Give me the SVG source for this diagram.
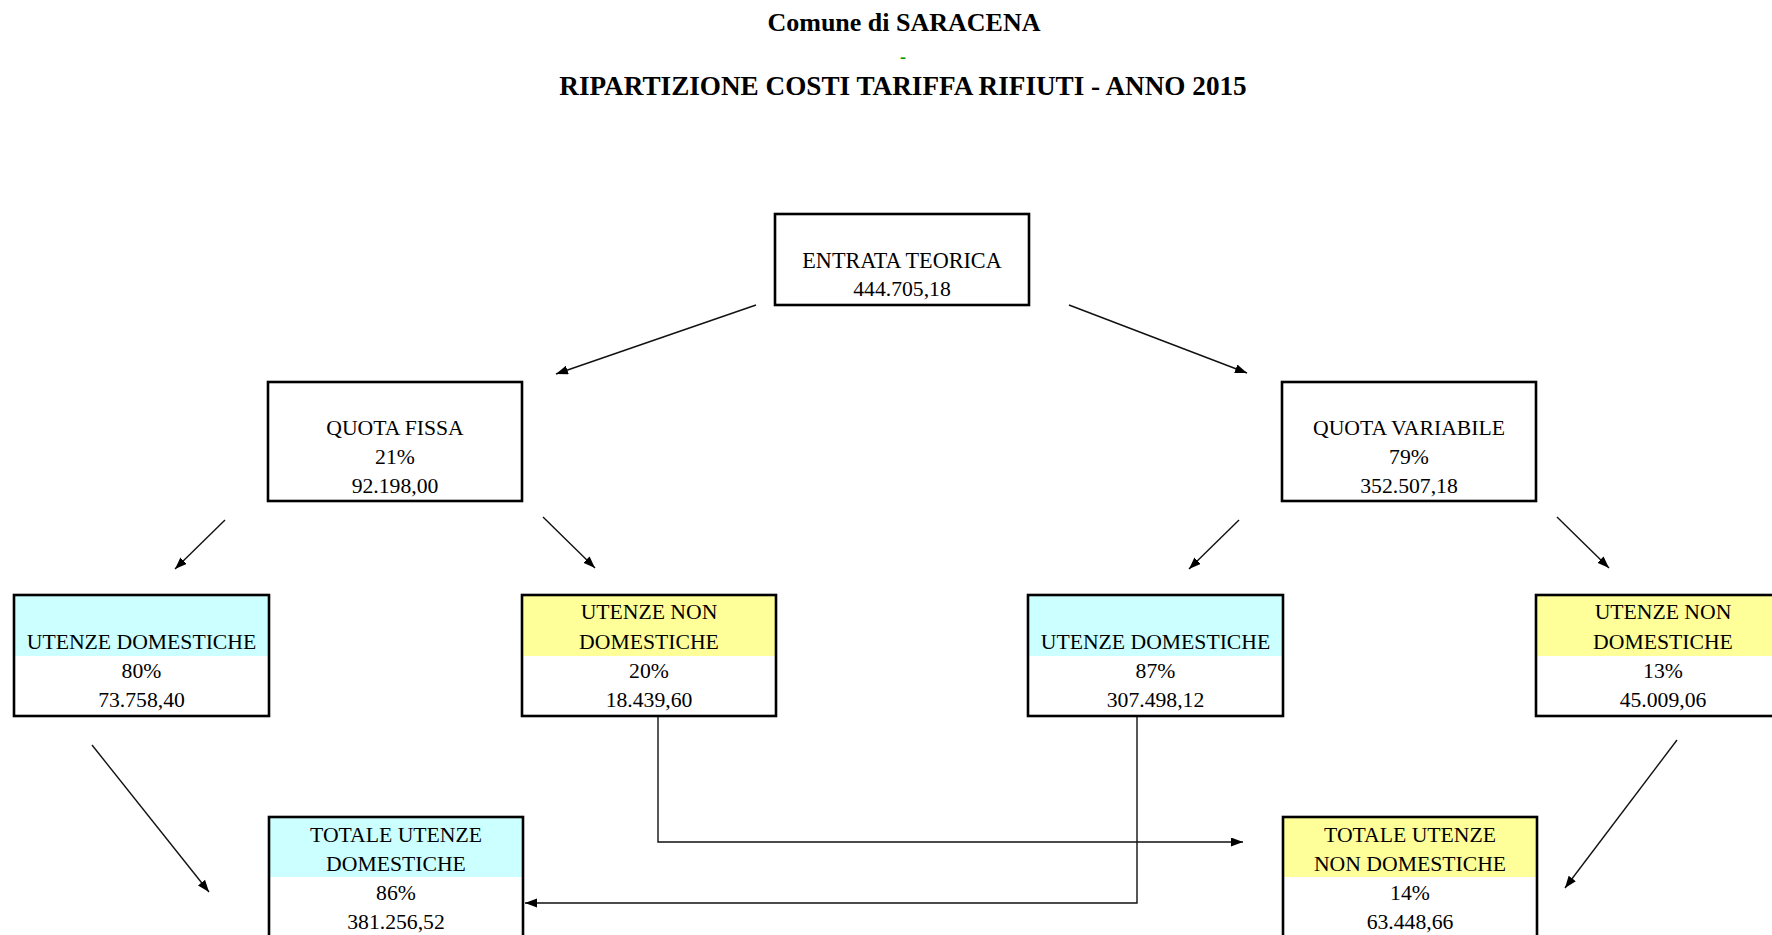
<svg xmlns="http://www.w3.org/2000/svg" width="1772" height="935" viewBox="0 0 1772 935">
<defs>
<style>
.t{font-family:"Liberation Serif","Times New Roman",serif;font-size:21.7px;fill:#000;text-anchor:middle}
.h{font-family:"Liberation Serif","Times New Roman",serif;font-size:26px;font-weight:bold;fill:#000;text-anchor:middle}
.box{fill:none;stroke:#000;stroke-width:2.6}
.bg{fill:#fff}
.cy{fill:#ccffff}
.ye{fill:#ffff99}
.c{fill:none;stroke:#111;stroke-width:1.4}
</style>
<marker id="ah" markerUnits="userSpaceOnUse" markerWidth="13" markerHeight="10" refX="12" refY="4.5" orient="auto">
<path d="M0,0 L12,4.5 L0,9 z" fill="#000"/>
</marker>
</defs>
<rect width="1772" height="935" fill="#fff"/>
<g id="title">
<text class="h" x="904" y="31">Comune di SARACENA</text>
<text x="903" y="63" style="font-family:'Liberation Serif',serif;font-size:18px;font-weight:bold;fill:#00a000;text-anchor:middle">-</text>
<text class="h" x="903" y="95" style="font-size:27.2px">RIPARTIZIONE COSTI TARIFFA RIFIUTI - ANNO 2015</text>
</g>
<g id="connectors">
<line class="c" x1="756" y1="305" x2="556" y2="374" marker-end="url(#ah)"/>
<line class="c" x1="1069" y1="305" x2="1247" y2="373" marker-end="url(#ah)"/>
<line class="c" x1="225" y1="520" x2="175" y2="569" marker-end="url(#ah)"/>
<line class="c" x1="543" y1="517" x2="595" y2="568" marker-end="url(#ah)"/>
<line class="c" x1="1239" y1="520" x2="1189" y2="569" marker-end="url(#ah)"/>
<line class="c" x1="1557" y1="517" x2="1609" y2="568" marker-end="url(#ah)"/>
<line class="c" x1="92" y1="745" x2="209" y2="892" marker-end="url(#ah)"/>
<line class="c" x1="1677" y1="740" x2="1565" y2="888" marker-end="url(#ah)"/>
<polyline class="c" points="658,716 658,842 1243,842" marker-end="url(#ah)"/>
<polyline class="c" points="1137,716 1137,903 525,903" marker-end="url(#ah)"/>
</g>
<g id="entrata">
<rect class="bg" x="775" y="214" width="254" height="91"/>
<rect class="box" x="775" y="214" width="254" height="91"/>
<text class="t" x="902" y="268" style="font-size:22.2px">ENTRATA TEORICA</text>
<text class="t" x="902" y="296">444.705,18</text>
</g>
<g id="quota-fissa">
<rect class="bg" x="268" y="382" width="254" height="119"/>
<rect class="box" x="268" y="382" width="254" height="119"/>
<text class="t" x="395" y="435">QUOTA FISSA</text>
<text class="t" x="395" y="464">21%</text>
<text class="t" x="395" y="493">92.198,00</text>
</g>
<g id="quota-variabile">
<rect class="bg" x="1282" y="382" width="254" height="119"/>
<rect class="box" x="1282" y="382" width="254" height="119"/>
<text class="t" x="1409" y="435">QUOTA VARIABILE</text>
<text class="t" x="1409" y="464">79%</text>
<text class="t" x="1409" y="493">352.507,18</text>
</g>
<g id="ud-fissa">
<rect class="bg" x="14" y="595" width="255" height="121"/>
<rect class="cy" x="14" y="595" width="255" height="61"/>
<rect class="box" x="14" y="595" width="255" height="121"/>
<text class="t" x="141.5" y="648.5">UTENZE DOMESTICHE</text>
<text class="t" x="141.5" y="678">80%</text>
<text class="t" x="141.5" y="707">73.758,40</text>
</g>
<g id="und-fissa">
<rect class="bg" x="522" y="595" width="254" height="121"/>
<rect class="ye" x="522" y="595" width="254" height="61"/>
<rect class="box" x="522" y="595" width="254" height="121"/>
<text class="t" x="649" y="619">UTENZE NON</text>
<text class="t" x="649" y="648.5">DOMESTICHE</text>
<text class="t" x="649" y="678">20%</text>
<text class="t" x="649" y="707">18.439,60</text>
</g>
<g id="ud-variabile">
<rect class="bg" x="1028" y="595" width="255" height="121"/>
<rect class="cy" x="1028" y="595" width="255" height="61"/>
<rect class="box" x="1028" y="595" width="255" height="121"/>
<text class="t" x="1155.5" y="648.5">UTENZE DOMESTICHE</text>
<text class="t" x="1155.5" y="678">87%</text>
<text class="t" x="1155.5" y="707">307.498,12</text>
</g>
<g id="und-variabile">
<rect class="bg" x="1536" y="595" width="254" height="121"/>
<rect class="ye" x="1536" y="595" width="254" height="61"/>
<rect class="box" x="1536" y="595" width="254" height="121"/>
<text class="t" x="1663" y="619">UTENZE NON</text>
<text class="t" x="1663" y="648.5">DOMESTICHE</text>
<text class="t" x="1663" y="678">13%</text>
<text class="t" x="1663" y="707">45.009,06</text>
</g>
<g id="totale-ud">
<rect class="bg" x="269" y="817" width="254" height="140"/>
<rect class="cy" x="269" y="817" width="254" height="60"/>
<rect class="box" x="269" y="817" width="254" height="140"/>
<text class="t" x="396" y="842">TOTALE UTENZE</text>
<text class="t" x="396" y="870.5">DOMESTICHE</text>
<text class="t" x="396" y="900">86%</text>
<text class="t" x="396" y="928.5">381.256,52</text>
</g>
<g id="totale-und">
<rect class="bg" x="1283" y="817" width="254" height="140"/>
<rect class="ye" x="1283" y="817" width="254" height="60"/>
<rect class="box" x="1283" y="817" width="254" height="140"/>
<text class="t" x="1410" y="842">TOTALE UTENZE</text>
<text class="t" x="1410" y="870.5">NON DOMESTICHE</text>
<text class="t" x="1410" y="900">14%</text>
<text class="t" x="1410" y="928.5">63.448,66</text>
</g>
</svg>
